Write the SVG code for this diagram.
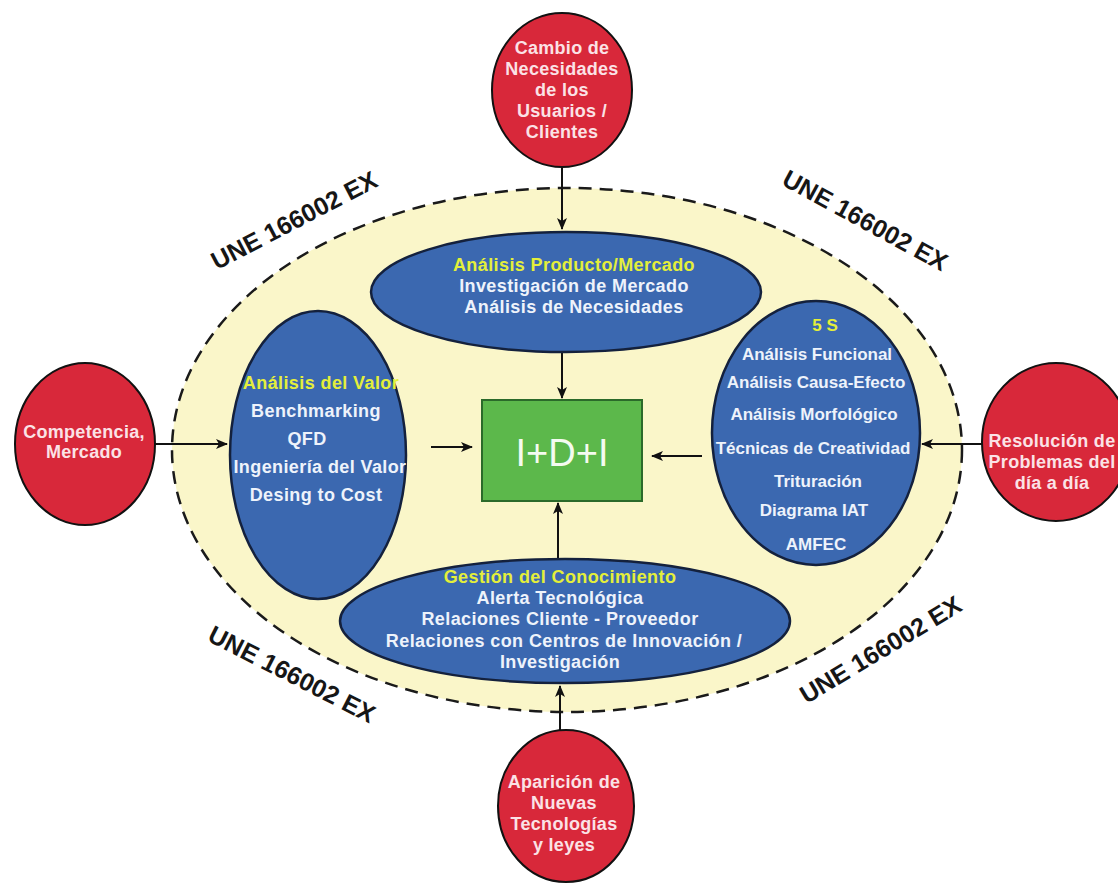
<svg xmlns="http://www.w3.org/2000/svg" width="1118" height="888" viewBox="0 0 1118 888">
<defs>
<marker id="arr" viewBox="0 0 12 10" refX="11" refY="5" markerWidth="12" markerHeight="10" markerUnits="userSpaceOnUse" orient="auto">
<path d="M0,0 L12,5 L0,10 L3,5 Z" fill="#111"/>
</marker>
</defs>
<style>
.red{fill:#d8283a;stroke:#111;stroke-width:2}
.blue{fill:#3b68b0;stroke:#14213d;stroke-width:2.5}
.rt{font-family:"Liberation Sans",Arial,sans-serif;font-weight:bold;font-size:18px;letter-spacing:0.3px;fill:#fbe2e6;text-anchor:middle}
.bt{font-family:"Liberation Sans",Arial,sans-serif;font-weight:bold;font-size:18px;letter-spacing:0.4px;fill:#eef3fb;text-anchor:middle}
.st{font-family:"Liberation Sans",Arial,sans-serif;font-weight:bold;font-size:17px;fill:#eef3fb;text-anchor:middle}
.yt{fill:#e4ef3a}
.une{font-family:"Liberation Sans",Arial,sans-serif;font-weight:bold;font-size:25px;fill:#161616;text-anchor:middle}
.con{stroke:#111;stroke-width:2;fill:none;marker-end:url(#arr)}
</style>
<rect width="1118" height="888" fill="#ffffff"/>
<g id="outer">
<ellipse cx="567" cy="450" rx="395" ry="262" fill="#faf6c9" stroke="#1a1a1a" stroke-width="2.5" stroke-dasharray="13 8"/>
<text class="une" transform="translate(298,228) rotate(-27.5)">UNE 166002 EX</text>
<text class="une" transform="translate(861,228) rotate(28.5)">UNE 166002 EX</text>
<text class="une" transform="translate(288,682) rotate(27)">UNE 166002 EX</text>
<text class="une" transform="translate(885,657) rotate(-31)">UNE 166002 EX</text>
</g>
<g id="connectors">
<line class="con" x1="562" y1="167" x2="562" y2="229"/>
<line class="con" x1="155" y1="444" x2="227" y2="444"/>
<line class="con" x1="982" y1="444" x2="922" y2="444"/>
<line class="con" x1="560" y1="731" x2="560" y2="686"/>
<line class="con" x1="562" y1="351" x2="562" y2="398"/>
<line class="con" x1="558" y1="560" x2="558" y2="503"/>
<line class="con" x1="431" y1="447" x2="472" y2="447"/>
<line class="con" x1="702" y1="456" x2="652" y2="456"/>
</g>
<g id="top-ellipse">
<ellipse class="blue" cx="566" cy="292" rx="195" ry="60"/>
<text class="bt" x="574" y="271"><tspan class="yt">Análisis Producto/Mercado</tspan></text>
<text class="bt" x="574" y="292">Investigación de Mercado</text>
<text class="bt" x="574" y="313">Análisis de Necesidades</text>
</g>
<g id="left-ellipse">
<ellipse class="blue" cx="318" cy="455" rx="88" ry="144"/>
<text class="bt" x="321" y="389"><tspan class="yt">Análisis del Valor</tspan></text>
<text class="bt" x="316" y="417">Benchmarking</text>
<text class="bt" x="307" y="445">QFD</text>
<text class="bt" x="320" y="473">Ingeniería del Valor</text>
<text class="bt" x="316" y="501">Desing to Cost</text>
</g>
<g id="right-ellipse">
<ellipse class="blue" cx="816" cy="433" rx="104" ry="132"/>
<text class="st" x="825" y="331" font-size="14"><tspan class="yt">5 S</tspan></text>
<text class="st" x="817" y="360">Análisis Funcional</text>
<text class="st" x="816" y="388">Análisis Causa-Efecto</text>
<text class="st" x="814" y="420">Análisis Morfológico</text>
<text class="st" x="813" y="454">Técnicas de Creatividad</text>
<text class="st" x="818" y="487">Trituración</text>
<text class="st" x="814" y="516">Diagrama IAT</text>
<text class="st" x="816" y="550">AMFEC</text>
</g>
<g id="bottom-ellipse">
<ellipse class="blue" cx="565" cy="621" rx="225" ry="62"/>
<text class="bt" x="560" y="583"><tspan class="yt">Gestión del Conocimiento</tspan></text>
<text class="bt" x="560" y="604">Alerta Tecnológica</text>
<text class="bt" x="560" y="625">Relaciones Cliente - Proveedor</text>
<text class="bt" x="564" y="647">Relaciones con Centros de Innovación /</text>
<text class="bt" x="560" y="668">Investigación</text>
</g>
<g id="center">
<rect x="482" y="400" width="160" height="101" fill="#5cb84b" stroke="#2b6a2a" stroke-width="2"/>
<text x="562" y="466" font-family="'Liberation Sans',Arial,sans-serif" font-size="38" fill="#f4fbf0" text-anchor="middle">I+D+I</text>
</g>
<g id="top-circle">
<ellipse class="red" cx="562" cy="90" rx="70" ry="77"/>
<text class="rt" x="562" y="54">Cambio de</text>
<text class="rt" x="562" y="75">Necesidades</text>
<text class="rt" x="562" y="96">de los</text>
<text class="rt" x="562" y="117">Usuarios /</text>
<text class="rt" x="562" y="138">Clientes</text>
</g>
<g id="left-circle">
<ellipse class="red" cx="85" cy="444" rx="70" ry="81"/>
<text class="rt" x="84" y="438">Competencia,</text>
<text class="rt" x="84" y="458">Mercado</text>
</g>
<g id="right-circle">
<ellipse class="red" cx="1056" cy="442" rx="74" ry="79"/>
<text class="rt" x="1052" y="447">Resolución de</text>
<text class="rt" x="1052" y="468">Problemas del</text>
<text class="rt" x="1052" y="489">día a día</text>
</g>
<g id="bottom-circle">
<ellipse class="red" cx="566" cy="806" rx="68" ry="76"/>
<text class="rt" x="564" y="788">Aparición de</text>
<text class="rt" x="564" y="809">Nuevas</text>
<text class="rt" x="564" y="830">Tecnologías</text>
<text class="rt" x="564" y="851">y leyes</text>
</g>
</svg>
